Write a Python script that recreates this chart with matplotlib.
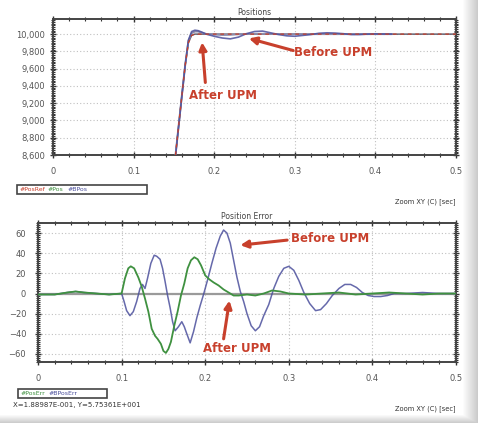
import numpy as np
import matplotlib
matplotlib.use("Agg")
import matplotlib.pyplot as plt
from matplotlib.ticker import MultipleLocator, FuncFormatter

# --- data ---
t_ref = [0.148, 0.152, 0.156, 0.160, 0.164, 0.168, 0.172, 0.176, 0.5]
pos_ref = [8430, 8600, 8950, 9300, 9640, 9900, 9985, 10000, 10000]

t_pos = [0.148, 0.152, 0.156, 0.160, 0.164, 0.168, 0.172, 0.176, 0.180, 0.185, 0.190,
         0.200, 0.210, 0.220, 0.230, 0.240, 0.260, 0.280, 0.300, 0.340, 0.380, 0.420]
pos = [8430, 8600, 8950, 9300, 9640, 9920, 10010, 10030, 10030, 10015, 10002,
       9995, 9990, 9992, 9998, 10002, 10003, 10000, 10000, 10000, 10000, 10000]

t_bpos = [0.148, 0.152, 0.156, 0.160, 0.164, 0.168, 0.172, 0.176, 0.180, 0.185, 0.190,
          0.200, 0.210, 0.220, 0.230, 0.240, 0.250, 0.260, 0.270, 0.280, 0.290,
          0.300, 0.310, 0.320, 0.330, 0.340, 0.350, 0.360, 0.370, 0.380, 0.390,
          0.400, 0.420]
bpos = [8420, 8590, 8940, 9290, 9640, 9930, 10030, 10045, 10040, 10022, 10000,
        9975, 9955, 9945, 9965, 10005, 10030, 10035, 10015, 9995, 9980,
        9975, 9985, 9995, 10010, 10015, 10012, 10005, 9995, 9995, 10000,
        10002, 10000]

t_err = [0, 0.02, 0.035, 0.045, 0.055, 0.07, 0.085, 0.100, 0.104, 0.108, 0.111, 0.115,
         0.120, 0.124, 0.128, 0.132, 0.136, 0.140, 0.143, 0.147, 0.150, 0.153, 0.156,
         0.159, 0.163, 0.167, 0.171, 0.175, 0.179, 0.183, 0.187, 0.191, 0.195, 0.200,
         0.205, 0.210, 0.216, 0.222, 0.228, 0.234, 0.240, 0.250, 0.260, 0.270, 0.280,
         0.290, 0.300, 0.320, 0.340, 0.360, 0.380, 0.400, 0.420, 0.440, 0.460, 0.480, 0.500]
pos_err = [-1, -1, 1, 2, 1, 0, -1, 0, 15, 25, 27, 25,
           16, 7, -5, -18, -35, -42, -45, -50, -57, -59, -55,
           -48, -32, -18, -2, 10, 25, 33, 36, 34, 28, 18,
           14, 11, 8, 4, 1, -2, -2, -1, -2, 0, 3,
           2, 0, -1, 0, 1, -1, 0, 1, 0, -1, 0, 0]

t_berr = [0, 0.02, 0.035, 0.045, 0.055, 0.07, 0.085, 0.100, 0.103, 0.106, 0.110, 0.114,
          0.118, 0.122, 0.125, 0.128, 0.131, 0.135, 0.139, 0.142, 0.146, 0.149, 0.152,
          0.155, 0.158, 0.161, 0.164, 0.168, 0.172, 0.175, 0.178, 0.182, 0.186, 0.190,
          0.194, 0.198, 0.203, 0.208, 0.213, 0.218, 0.222, 0.226, 0.230, 0.234, 0.238,
          0.242, 0.246, 0.250, 0.255, 0.260, 0.265, 0.270, 0.276, 0.282, 0.288, 0.294,
          0.300, 0.306, 0.312, 0.318, 0.325, 0.332, 0.338, 0.345, 0.352, 0.360, 0.367,
          0.374, 0.381, 0.388, 0.395, 0.402, 0.410, 0.418, 0.426, 0.440, 0.460, 0.480, 0.500]
bpos_err = [-1, -1, 1, 2, 1, 0, -1, 0, -8, -17, -22, -18,
            -8, 5, 9, 5, 15, 30, 38, 37, 34, 25, 12,
            -2, -14, -28, -37, -33, -28, -33, -40, -49, -38, -24,
            -12, -1, 14, 30, 45, 57, 63, 60, 50, 33, 16,
            2, -8, -20, -32, -37, -33, -22, -11, 5, 17, 25,
            27, 23, 13, 1, -10, -17, -16, -10, -2, 5, 9,
            9, 6, 1, -2, -3, -3, -2, 0, 0, 1, 0, 0]

x_ticks = [0, 0.1, 0.2, 0.3, 0.4, 0.5]
x_labels = ["0", "0.1", "0.2", "0.3", "0.4", "0.5"]

RED = "#c8402c"
GRN = "#3f9140"
BLU = "#4b4f9c"
TXT = "#555555"

W, H = 478, 423
fig = plt.figure(figsize=(W / 100, H / 100), dpi=100)

# white panel with soft gray shadow to the right and bottom
bg = fig.add_axes([0, 0, 1, 1], zorder=-5)
xx = np.arange(W)
yy = np.arange(H)
sx = np.clip((xx - 462) / 16.0, 0, 1)
sy = np.clip((yy - 414) / 9.0, 0, 1)
shade = 1 - 0.22 * np.maximum(sx[None, :], sy[:, None])
bg.imshow(shade, cmap="gray", vmin=0, vmax=1, aspect="auto", extent=[0, W, H, 0])
bg.set_xlim(0, W)
bg.set_ylim(H, 0)
bg.axis("off")


def style(ax, ylim, ymajor, yminor):
    ax.set_xlim(0, 0.5)
    ax.set_ylim(*ylim)
    ax.set_xticks(x_ticks)
    ax.set_xticklabels(x_labels)
    ax.xaxis.set_minor_locator(MultipleLocator(0.02))
    ax.yaxis.set_major_locator(MultipleLocator(ymajor))
    ax.yaxis.set_minor_locator(MultipleLocator(yminor))
    ax.grid(True, which="major", ls=(0, (1, 2)), color="#c0c0c0", lw=0.8)
    ax.tick_params(which="both", direction="inout", top=True, right=True,
                   colors="#333333", labelcolor=TXT, labelsize=6)
    ax.tick_params(which="major", length=5, width=1)
    ax.tick_params(which="minor", length=3, width=0.8)
    ax.tick_params(axis="x", pad=6)
    for s in ax.spines.values():
        s.set_color("#444444")
        s.set_linewidth(1.4)


def callout(ax, text, text_xy, tail, head):
    ax.text(*text_xy, text, color=RED, fontsize=8.5, fontweight="bold",
            ha="center", va="center")
    ax.annotate("", xy=head, xytext=tail,
                arrowprops=dict(arrowstyle="-|>", color=RED, lw=2.2,
                                mutation_scale=11, shrinkA=0, shrinkB=0))


# --- Positions ---
ax1 = fig.add_axes([53 / W, 1 - 155 / H, 403 / W, 136 / H])
style(ax1, (8600, 10175), 200, 20)
ax1.yaxis.set_major_formatter(FuncFormatter(lambda v, p: "{:,.0f}".format(v)))
ax1.tick_params(axis="y", pad=3)
ax1.plot(t_ref, pos_ref, color="#555566", lw=1.0, zorder=3)
ax1.plot(t_pos, pos, color="#8c8caa", lw=1.4, zorder=3)
ax1.plot(t_bpos, bpos, color=BLU, lw=1.2, alpha=0.85, zorder=4)
ax1.plot(t_ref, pos_ref, color=RED, lw=0.9, ls=(0, (3, 3)), zorder=5)
ax1.set_title("Positions", fontsize=5.5, color="#444444", pad=3)

callout(ax1, "Before UPM", (0.348, 9790), (0.298, 9810), (0.243, 9950))
callout(ax1, "After UPM", (0.211, 9294), (0.189, 9440), (0.185, 9905))

# --- Position Error ---
ax2 = fig.add_axes([38 / W, 1 - 362 / H, 418 / W, 139 / H])
style(ax2, (-68, 70), 20, 2)
ax2.tick_params(axis="y", pad=6)
ax2.axhline(0, color="#9a9a9a", lw=1.6, zorder=2)
ax2.plot(t_err, pos_err, color=GRN, lw=1.3, zorder=4)
ax2.plot(t_berr, bpos_err, color=BLU, lw=1.1, alpha=0.85, zorder=3)
ax2.set_title("Position Error", fontsize=5.5, color="#444444", pad=3)

callout(ax2, "Before UPM", (0.349, 55), (0.298, 53), (0.242, 48))
callout(ax2, "After UPM", (0.238, -55), (0.222, -45), (0.229, -7))


# --- legend boxes and status texts, in pixel coordinates ---
def px(x, y):
    return x / W, 1 - y / H


def legend_box(x0, y0, x1, y1, items):
    fig.patches.append(plt.Rectangle(px(x0, y1), (x1 - x0) / W, (y1 - y0) / H,
                                     transform=fig.transFigure, fill=False,
                                     edgecolor="#444444", lw=1.2))
    x = x0 + 3
    for name, col, w in items:
        fig.text(*px(x, (y0 + y1) / 2), name, color=col, fontsize=4.5,
                 ha="left", va="center")
        x += w


legend_box(17, 185, 147, 194, [("#PosRef", RED, 28), ("#Pos", GRN, 20), ("#BPos", BLU, 24)])
legend_box(18, 389, 107, 398, [("#PosErr", GRN, 28), ("#BPosErr", BLU, 30)])

fig.text(*px(456, 202), "Zoom XY (C) [sec]", fontsize=4.8, color="#333333",
         ha="right", va="center")
fig.text(*px(456, 409), "Zoom XY (C) [sec]", fontsize=4.8, color="#333333",
         ha="right", va="center")
fig.text(*px(13, 405), "X=1.88987E-001, Y=5.75361E+001", fontsize=5, color="#333333",
         ha="left", va="center")

fig.savefig("out.png", dpi=100)
